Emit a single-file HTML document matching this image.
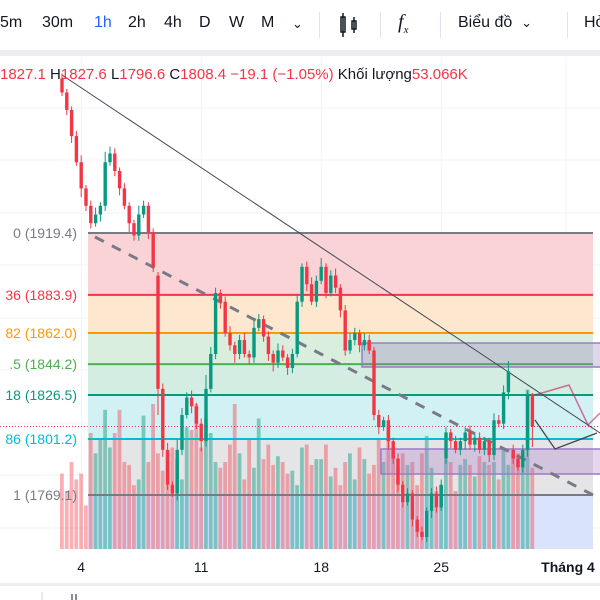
<!DOCTYPE html>
<html><head><meta charset="utf-8"><style>
body{margin:0;width:600px;height:600px;overflow:hidden;background:#fff;font-family:"Liberation Sans","Noto Sans CJK SC",sans-serif;}
#tb{position:absolute;left:0;top:0;width:600px;height:50px;font-size:16px;color:#131722;}
#tb span{position:absolute;top:14px;}
.sep{position:absolute;top:12px;width:1px;height:26px;background:#e0e3eb;}
#band{position:absolute;left:0;top:50px;width:600px;height:6px;background:#eceef2;}
svg{position:absolute;left:0;top:0;}
</style></head><body>
<div id="tb">
<span style="left:0">5m</span>
<span style="left:42px">30m</span>
<span style="left:94px;color:#2962ff">1h</span>
<span style="left:128px">2h</span>
<span style="left:164px">4h</span>
<span style="left:199px">D</span>
<span style="left:229px">W</span>
<span style="left:261px">M</span>
<span style="left:292px;font-size:13px;top:16px">&#8964;</span>
<div class="sep" style="left:319px"></div>
<span style="left:338px;top:12px"><svg width="22" height="26" style="position:static"><rect x="3" y="5" width="4" height="15" fill="none" stroke="#131722" stroke-width="1.5"/><line x1="5" y1="1" x2="5" y2="25" stroke="#131722" stroke-width="1.5"/><rect x="14" y="9" width="4" height="8" fill="none" stroke="#131722" stroke-width="1.5"/><line x1="16" y1="5" x2="16" y2="21" stroke="#131722" stroke-width="1.5"/></svg></span>
<div class="sep" style="left:380px"></div>
<span style="left:398px;font-style:italic;font-family:'Liberation Serif',serif;font-size:20px;top:11px">f<sub style="font-size:11px">x</sub></span>
<div class="sep" style="left:440px"></div>
<span style="left:458px">Biểu đồ &nbsp;<small style="font-size:13px">&#8964;</small></span>
<div class="sep" style="left:567px"></div>
<span style="left:584px">Hỏ</span>
</div>
<div id="band"></div>
<svg id="c" width="600" height="600" style="top:0"></svg>
<script>
const closes=[2000,1990,1975,1960,1945,1935,1925,1930,1935,1960,1965,1955,1945,1935,1925,1918,1930,1935,1920,1900,1830,1795,1775,1770,1795,1815,1825,1820,1810,1800,1830,1850,1885,1880,1862,1855,1850,1858,1850,1848,1865,1870,1860,1850,1845,1852,1848,1842,1850,1880,1900,1890,1880,1892,1900,1885,1895,1888,1875,1852,1858,1862,1855,1858,1852,1815,1808,1812,1800,1790,1775,1765,1770,1755,1748,1745,1760,1770,1762,1775,1805,1800,1795,1800,1805,1798,1802,1795,1800,1792,1812,1810,1828,1840,1790,1785,1795,1827,1808.4];
const opens=[2008,2000,1990,1975,1960,1945,1935,1925,1930,1935,1960,1965,1955,1945,1935,1925,1918,1930,1935,1920,1895,1830,1795,1775,1770,1795,1815,1825,1820,1810,1800,1830,1850,1885,1880,1862,1855,1850,1858,1850,1848,1865,1870,1860,1850,1845,1852,1848,1842,1850,1880,1900,1890,1880,1892,1900,1885,1895,1888,1875,1852,1858,1862,1855,1858,1852,1815,1808,1812,1800,1790,1775,1765,1770,1755,1748,1745,1760,1770,1762,1790,1805,1800,1795,1800,1805,1798,1802,1795,1800,1792,1812,1810,1828,1795,1790,1785,1795,1827.1];
const wickUp=[3,2,2,3,4,2,3,4,2,6,4,3,2,3,2,2,5,3,2,2,2,3,4,2,6,4,3,4,2,3,8,4,3,2,3,4,2,3,4,2,4,3,2,3,2,4,3,2,3,4,2,3,4,3,5,2,3,4,2,3,4,3,2,4,3,2,3,2,3,2,3,2,3,2,2,3,2,3,4,3,3,2,3,2,3,4,2,3,2,2,4,3,4,6,3,2,3,2,0.5];
const wickDn=[2,3,4,2,5,3,3,2,4,3,2,3,4,2,5,3,3,2,4,3,15,4,3,2,4,3,2,4,3,6,3,2,3,4,2,3,5,3,2,4,3,2,3,4,5,3,2,4,3,2,3,4,2,3,2,3,2,3,4,3,2,3,4,3,2,3,4,2,5,3,4,3,2,4,3,2,3,4,3,2,3,4,2,3,5,3,4,2,3,4,3,2,3,4,3,2,3,4,11.8];
const volumes=[52,40,60,48,52,30,80,66,76,96,70,80,96,60,58,44,48,92,60,100,66,54,66,70,62,48,84,82,100,70,90,80,60,56,60,72,100,66,48,76,56,90,62,72,58,64,60,52,54,44,70,72,58,62,62,72,50,56,44,60,66,48,70,62,52,58,76,60,84,70,56,66,58,60,44,66,78,56,40,44,62,60,40,58,62,58,50,64,60,58,60,48,70,58,68,66,66,110,56];
const fibLevels=[0,0.236,0.382,0.5,0.618,0.786,1];
const fibPrices=[1919.4,1883.9,1862.0,1844.2,1826.5,1801.2,1769.1];
const fibLabels=["0 (1919.4)","36 (1883.9)","82 (1862.0)",".5 (1844.2)","18 (1826.5)","86 (1801.2)","1 (1769.1)"];
const timeLabels=["4","11","18","25","Tháng 4"];
const timeIndex=[4,29,54,79,105];

const svg=document.getElementById('c');const NS='http://www.w3.org/2000/svg';
function Y(p){return 233+(1919.4-p)*262/150.3;}
function X(i){return 62+i*4.8;}
function mk(t,a,parent){const e=document.createElementNS(NS,t);for(const k in a)e.setAttribute(k,a[k]);(parent||svg).appendChild(e);return e;}
const top0=57,bot=549;
for(let k=0;k<timeIndex.length;k++){const g=mk('line',{x1:X(timeIndex[k]),x2:X(timeIndex[k]),y1:top0,y2:bot,stroke:'#f0f3fa'});}
[108,160,213,265,318,370,423,475,528].forEach(y=>{mk('line',{x1:0,x2:600,y1:y,y2:y,stroke:'#f0f3fa'});});
const zoneCols=['#f9d3d6','#fde8cf','#d9eedd','#d3ede3','#d2f1f5','#e5e5e8','#d9e3fb'];
const lineCols=['#787b86','#f23645','#ff9800','#4caf50','#089981','#00bcd4','#787b86'];
const txtCols=['#787b86','#f23645','#ff9800','#4caf50','#089981','#00bcd4','#787b86'];
const fx1=88,fx2=593;
for(let k=0;k<fibPrices.length;k++){
 const y1=Y(fibPrices[k]);const y2=k<fibPrices.length-1?Y(fibPrices[k+1]):bot;
 const r=mk('rect',{x:fx1,y:y1,width:fx2-fx1,height:y2-y1,fill:zoneCols[k]});
 
}
for(let i=0;i<volumes.length;i++){const up=closes[i]>=opens[i];const h=volumes[i]*1.45;
 const r=mk('rect',{x:X(i)-2,y:bot-h,width:3.8,height:h,fill:up?'rgba(8,153,129,0.45)':'rgba(242,54,69,0.4)'});
 }
for(let k=0;k<fibPrices.length;k++){const y=Y(fibPrices[k]);
 const l=mk('line',{x1:fx1,x2:fx2,y1:y,y2:y,stroke:lineCols[k],'stroke-width':2});
 
 const t=mk('text',{x:77,y:y+5,'text-anchor':'end','font-size':14,fill:txtCols[k],'font-family':'Liberation Sans'});t.textContent=fibLabels[k];
 }
const r1=mk('rect',{x:362,y:343,width:250,height:24,fill:'rgba(150,120,190,0.3)',stroke:'#9c7bc7','stroke-width':1.5});

const r2=mk('rect',{x:381,y:449,width:230,height:25,fill:'rgba(170,120,200,0.3)',stroke:'#9c7bc7','stroke-width':1.5});

const dp=mk('line',{x1:0,x2:600,y1:Y(1808.4),y2:Y(1808.4),stroke:'#f23645','stroke-dasharray':'1 2','stroke-width':1});

const t1=mk('line',{x1:62,y1:75,x2:600,y2:433,stroke:'#434651','stroke-width':1});

const t2=mk('line',{x1:95,y1:237,x2:593,y2:495,stroke:'#787b86','stroke-width':3,'stroke-dasharray':'10 9'});

for(let i=0;i<closes.length;i++){const o=opens[i],c=closes[i];const up=c>=o;const col=up?'#089981':'#f23645';
 const hi=Math.max(o,c)+wickUp[i],lo=Math.min(o,c)-wickDn[i];
 const g=mk('g',{});
 mk('line',{x1:X(i),x2:X(i),y1:Y(hi),y2:Y(lo),stroke:col,'stroke-width':1},g);
 const yt=Y(Math.max(o,c)),yb=Y(Math.min(o,c));
 mk('rect',{x:X(i)-1.7,y:yt,width:3.4,height:Math.max(1,yb-yt),fill:col},g);}
const z1=mk('polyline',{points:'535,395 569,385 588,425 600,413',fill:'none',stroke:'#c2185b','stroke-opacity':0.6,'stroke-width':1.5});

const z2=mk('polyline',{points:'535,420 555,449 597,433',fill:'none',stroke:'#434651','stroke-width':1.3});

mk('rect',{x:0,y:bot,width:600,height:36,fill:'#fff'});
for(let k=0;k<timeLabels.length;k++){const t=mk('text',{x:k==4?568:X(timeIndex[k]),y:572,'text-anchor':'middle','font-size':14,fill:'#131722','font-weight':k==4?'bold':'normal','font-family':'Liberation Sans'});t.textContent=timeLabels[k];
 }
mk('rect',{x:0,y:583,width:600,height:3,fill:'#eceef2'});
mk('line',{x1:42,x2:42,y1:592,y2:600,stroke:'#d1d4dc'});
mk('line',{x1:72,x2:72,y1:594,y2:600,stroke:'#131722'});mk('line',{x1:76,x2:76,y1:594,y2:600,stroke:'#131722'});
const lg=mk('text',{x:0,y:79,'font-size':15,'font-family':'Liberation Sans',fill:'#f23645'});

lg.innerHTML='<tspan>1827.1 </tspan><tspan fill="#131722">H</tspan><tspan>1827.6 </tspan><tspan fill="#131722">L</tspan><tspan>1796.6 </tspan><tspan fill="#131722">C</tspan><tspan>1808.4 </tspan><tspan> −19.1 (−1.05%) </tspan><tspan fill="#131722">Khối lượng</tspan><tspan>53.066K</tspan>';
</script>
</body></html>
